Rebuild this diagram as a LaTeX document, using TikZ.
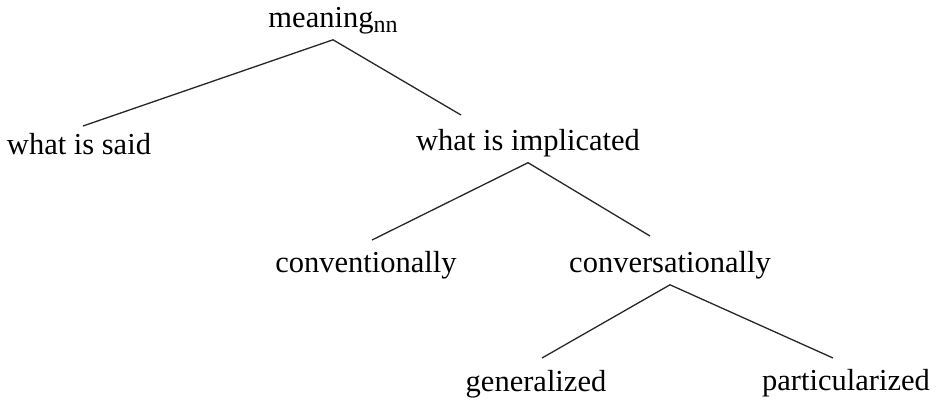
\documentclass[tikz,border=0pt]{standalone}
\usepackage{fontspec}
\setmainfont{Liberation Serif}
\tikzset{
  word/.style={font=\fontsize{30.5}{34}\selectfont, anchor=base, inner xsep=0pt, inner ysep=6pt},
  branch/.style={line width=1.3pt, black!85}
}
\begin{document}
\begin{tikzpicture}[x=1pt,y=-1pt]
\useasboundingbox (0,0) rectangle (937,400);
% labels
\node [word] (mean) at (333,27) {meaning\raisebox{-5pt}{\fontsize{24}{26}\selectfont nn}};
\node [word] (said) at (79,154) {what is said};
\node [word] (impl) at (528,150) {what is implicated};
\node [word] (conv) at (366,272) {conventionally};
\node [word] (cons) at (670,272) {conversationally};
\node [word] (gen) at (536,391) {generalized};
\node [word] (part) at (846,390) {particularized};
% loose ends of the branches
\coordinate (said-e) at (83,126);
\coordinate (impl-e) at (461,115);
\coordinate (conv-e) at (372,240);
\coordinate (cons-e) at (650,236);
\coordinate (gen-e) at (542,358);
\coordinate (part-e) at (833,358);
% branches
\draw [branch] (said-e) -- (mean.south) -- (impl-e);
\draw [branch] (conv-e) -- (impl.south) -- (cons-e);
\draw [branch] (gen-e) -- (cons.south) -- (part-e);
\end{tikzpicture}
\end{document}
